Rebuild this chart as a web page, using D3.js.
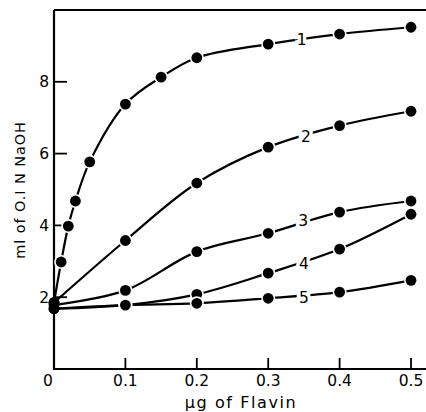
<!DOCTYPE html>
<html><head><meta charset="utf-8">
<script src="https://cdn.jsdelivr.net/npm/d3@7"></script>
<style>body{margin:0;background:#fff}svg{display:block}</style>
</head><body>
<svg id="c" width="426" height="412"></svg>
<script>
// Data
const xs1 = [0, 0.01, 0.02, 0.03, 0.05, 0.1, 0.15, 0.2, 0.3, 0.4, 0.5];
const s1 = [1.85, 2.98, 3.98, 4.68, 5.77, 7.38, 8.13, 8.67, 9.05, 9.33, 9.52];
const xs = [0, 0.1, 0.2, 0.3, 0.4, 0.5];
const s2 = [1.85, 3.58, 5.18, 6.18, 6.78, 7.18];
const s3 = [1.78, 2.19, 3.27, 3.78, 4.37, 4.68];
const s4 = [1.68, 1.78, 2.08, 2.67, 3.34, 4.31];
const s5 = [1.68, 1.78, 1.83, 1.97, 2.14, 2.47];
const seriesNames = ["1", "2", "3", "4", "5"];
const labelX = [0.347, 0.353, 0.349, 0.35, 0.35];
const labelY = [9.19, 6.49, 4.14, 2.94, 2.0];
const xTicks = [0.1, 0.2, 0.3, 0.4, 0.5];
const yTicks = [2, 4, 6, 8];

const series = [
  {x: xs1, y: s1}, {x: xs, y: s2}, {x: xs, y: s3}, {x: xs, y: s4}, {x: xs, y: s5}
];

const svg = d3.select("#c");
const x = d3.scaleLinear().domain([0, 0.521]).range([54, 426]);
const y = d3.scaleLinear().domain([0, 10]).range([369, 10]);
const font = "DejaVu Sans, sans-serif";

// frame
const g = svg.append("g");
g.append("path").attr("d", `M${x(0)},${y(10)}H${x(0.521)}`).attr("stroke","#000").attr("stroke-width",2.2).attr("fill","none");
g.append("path").attr("d", `M${x(0)},${y(10)}V${y(0)}H${x(0.521)}`).attr("stroke","#000").attr("stroke-width",2.2).attr("fill","none");

// x ticks (inward, up)
g.selectAll(".xt").data(xTicks).enter().append("line")
  .attr("x1", d => x(d)).attr("x2", d => x(d))
  .attr("y1", y(0)).attr("y2", y(0) - 11)
  .attr("stroke","#000").attr("stroke-width",1.8);
g.selectAll(".xl").data(xTicks).enter().append("text")
  .attr("x", d => x(d)).attr("y", y(0) + 17)
  .attr("text-anchor","middle").attr("font-family",font).attr("font-size",15.5)
  .text(d => d3.format(".1f")(d));
g.append("text").attr("x", x(0) - 6).attr("y", y(0) + 17)
  .attr("text-anchor","middle").attr("font-family",font).attr("font-size",15.5).text("0");

// y ticks (inward, right)
g.selectAll(".yt").data(yTicks).enter().append("line")
  .attr("x1", x(0)).attr("x2", x(0) + 13)
  .attr("y1", d => y(d)).attr("y2", d => y(d))
  .attr("stroke","#000").attr("stroke-width",1.8);
g.selectAll(".yl").data(yTicks).enter().append("text")
  .attr("x", x(0) - 5).attr("y", d => y(d) + 5.5)
  .attr("text-anchor","end").attr("font-family",font).attr("font-size",15.5)
  .text(d => d);

// axis titles
svg.append("text").attr("transform", `translate(25,190) rotate(-90)`)
  .attr("text-anchor","middle").attr("font-family",font).attr("font-size",14.5)
  .attr("letter-spacing",0.9)
  .text("ml of O.I N NaOH");
svg.append("text").attr("x", 241).attr("y", 408)
  .attr("text-anchor","middle").attr("font-family",font).attr("font-size",16)
  .attr("letter-spacing",1.6)
  .text("\u03bcg of Flavin");

// lines
const line = d3.line().curve(d3.curveCatmullRom.alpha(0.5));
series.forEach((s, i) => {
  const pts = s.x.map((v, j) => [x(v), y(s.y[j])]);
  svg.append("path").attr("d", line(pts)).attr("fill","none")
    .attr("stroke","#000").attr("stroke-width",2.2);
});
// labels on lines
series.forEach((s, i) => {
  svg.append("text").attr("x", x(labelX[i])).attr("y", y(labelY[i]) + 5.5)
    .attr("text-anchor","middle").attr("font-family",font).attr("font-size",15.5)
    .attr("stroke","#fff").attr("stroke-width",7).attr("paint-order","stroke")
    .attr("fill","#000").text(seriesNames[i]);
});
// markers
series.forEach((s, i) => {
  svg.append("g").selectAll("circle").data(s.x.map((v, j) => [v, s.y[j]])).enter()
    .append("circle").attr("cx", d => x(d[0])).attr("cy", d => y(d[1])).attr("r", 5.4)
    .attr("fill","#000").attr("stroke", d => d[0] === 0 ? "none" : "#fff")
    .attr("stroke-width",3.2).attr("paint-order","stroke");
});
</script>
</body></html>
